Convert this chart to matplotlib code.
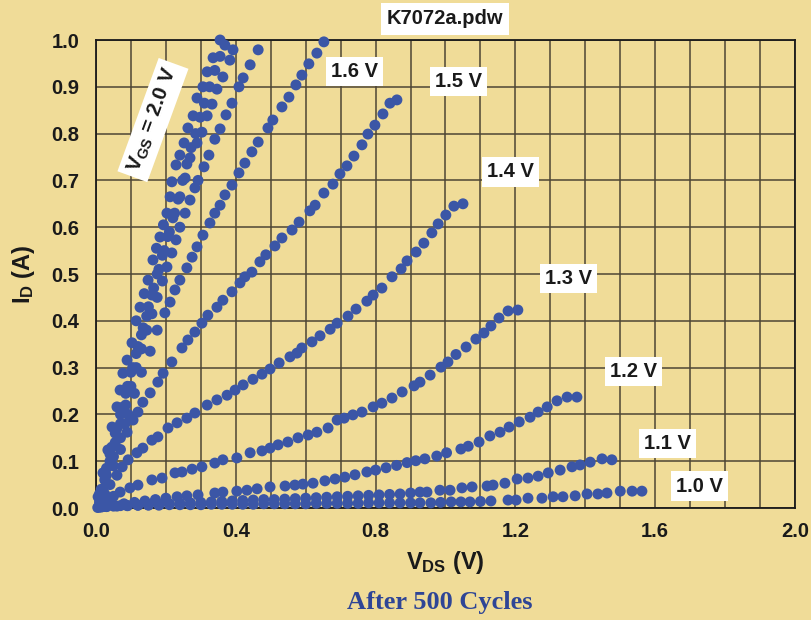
import matplotlib
matplotlib.use('Agg')
import matplotlib.pyplot as plt

# Curvas I_D - V_DS medidas (despues de 500 ciclos)
vds_10 = [0.005, 0.015, 0.03, 0.05, 0.07, 0.09, 0.12, 0.15, 0.18, 0.21, 0.24, 0.27, 0.30, 0.33,
          0.36, 0.39, 0.42, 0.45, 0.48, 0.51, 0.54, 0.57, 0.60, 0.63, 0.66, 0.69, 0.72, 0.75,
          0.78, 0.81, 0.84, 0.87, 0.90, 0.927, 0.958, 0.986, 1.016, 1.044, 1.07, 1.1, 1.13,
          1.179, 1.202, 1.236, 1.276, 1.308, 1.336, 1.371, 1.405, 1.436, 1.462, 1.5, 1.534, 1.562]
id_10 = [0.001, 0.002, 0.003, 0.004, 0.005, 0.005, 0.006, 0.006, 0.006, 0.007, 0.007, 0.007, 0.007, 0.008,
         0.008, 0.008, 0.008, 0.008, 0.009, 0.009, 0.009, 0.009, 0.009, 0.010, 0.010, 0.010, 0.010, 0.010,
         0.011, 0.011, 0.011, 0.011, 0.011, 0.011, 0.011, 0.012, 0.013, 0.013, 0.013, 0.014, 0.015,
         0.017, 0.017, 0.021, 0.021, 0.024, 0.024, 0.026, 0.030, 0.030, 0.032, 0.036, 0.036, 0.036]

vds_11 = [0.01, 0.03, 0.06, 0.09, 0.12, 0.15, 0.18, 0.21, 0.24, 0.27, 0.30, 0.33, 0.36, 0.39, 0.42,
          0.45, 0.48, 0.51, 0.54, 0.57, 0.60, 0.63, 0.66, 0.69, 0.72, 0.75, 0.78, 0.81, 0.84, 0.87,
          0.90, 0.927, 0.947, 0.984, 1.013, 1.047, 1.076, 1.119, 1.136, 1.17, 1.205, 1.236, 1.265,
          1.294, 1.328, 1.362, 1.385, 1.414, 1.448, 1.476]
id_11 = [0.002, 0.003, 0.004, 0.005, 0.006, 0.007, 0.008, 0.009, 0.010, 0.011, 0.012, 0.013, 0.014, 0.015, 0.016,
         0.017, 0.018, 0.018, 0.019, 0.020, 0.021, 0.022, 0.023, 0.024, 0.025, 0.026, 0.027, 0.028, 0.029, 0.030,
         0.032, 0.034, 0.034, 0.038, 0.038, 0.043, 0.045, 0.047, 0.049, 0.053, 0.062, 0.064, 0.068,
         0.075, 0.081, 0.088, 0.092, 0.098, 0.105, 0.103]

vds_12 = [0.02, 0.05, 0.08, 0.11, 0.14, 0.17, 0.20, 0.232, 0.26, 0.292, 0.34, 0.363, 0.403, 0.432,
          0.461, 0.498, 0.541, 0.569, 0.592, 0.621, 0.655, 0.684, 0.712, 0.741, 0.775, 0.80, 0.83,
          0.86, 0.89, 0.915, 0.941, 0.975, 1.003, 1.044, 1.065, 1.096, 1.127, 1.156, 1.182, 1.211,
          1.242, 1.265, 1.291, 1.319, 1.348, 1.376]
id_12 = [0.003, 0.006, 0.009, 0.012, 0.015, 0.018, 0.021, 0.024, 0.026, 0.028, 0.032, 0.034, 0.036, 0.038,
         0.041, 0.045, 0.047, 0.049, 0.051, 0.053, 0.058, 0.062, 0.066, 0.071, 0.077, 0.081, 0.086,
         0.091, 0.097, 0.101, 0.105, 0.111, 0.118, 0.126, 0.132, 0.141, 0.154, 0.162, 0.173, 0.184,
         0.194, 0.205, 0.216, 0.229, 0.237, 0.237]

vds_13 = [0.015, 0.03, 0.05, 0.069, 0.097, 0.12, 0.16, 0.189, 0.226, 0.246, 0.275, 0.303, 0.34, 0.363,
          0.403, 0.441, 0.475, 0.498, 0.521, 0.549, 0.578, 0.607, 0.632, 0.664, 0.69, 0.71, 0.735,
          0.761, 0.793, 0.818, 0.847, 0.876, 0.91, 0.927, 0.956, 0.987, 1.007, 1.03, 1.059, 1.087,
          1.11, 1.13, 1.153, 1.179, 1.207]
id_13 = [0.008, 0.015, 0.025, 0.034, 0.043, 0.049, 0.060, 0.064, 0.075, 0.077, 0.083, 0.088, 0.096, 0.103,
         0.107, 0.118, 0.122, 0.128, 0.135, 0.141, 0.150, 0.156, 0.162, 0.171, 0.188, 0.192, 0.199,
         0.205, 0.216, 0.224, 0.235, 0.248, 0.261, 0.269, 0.284, 0.301, 0.312, 0.328, 0.344, 0.361,
         0.374, 0.389, 0.406, 0.421, 0.423]

vds_14 = [0.01, 0.025, 0.04, 0.06, 0.075, 0.092, 0.117, 0.134, 0.16, 0.177, 0.206, 0.232, 0.26, 0.283,
          0.318, 0.346, 0.375, 0.398, 0.421, 0.449, 0.475, 0.498, 0.524, 0.555, 0.575, 0.589, 0.618,
          0.641, 0.67, 0.69, 0.721, 0.744, 0.775, 0.793, 0.818, 0.847, 0.873, 0.89, 0.916, 0.938,
          0.961, 0.979, 1.001, 1.024, 1.05]
id_14 = [0.012, 0.030, 0.050, 0.070, 0.088, 0.103, 0.118, 0.128, 0.145, 0.152, 0.171, 0.182, 0.192, 0.203,
         0.220, 0.231, 0.241, 0.252, 0.263, 0.275, 0.286, 0.297, 0.310, 0.323, 0.331, 0.342, 0.355,
         0.368, 0.382, 0.395, 0.410, 0.425, 0.442, 0.455, 0.470, 0.494, 0.511, 0.528, 0.547, 0.566,
         0.588, 0.607, 0.626, 0.645, 0.650]

vds_15 = [0.01, 0.03, 0.05, 0.07, 0.089, 0.106, 0.12, 0.134, 0.155, 0.177, 0.192, 0.217, 0.246, 0.263,
          0.283, 0.303, 0.32, 0.346, 0.363, 0.389, 0.412, 0.426, 0.446, 0.469, 0.486, 0.512, 0.532,
          0.561, 0.581, 0.612, 0.627, 0.652, 0.678, 0.698, 0.718, 0.738, 0.761, 0.778, 0.798, 0.821,
          0.841, 0.861]
id_15 = [0.020, 0.050, 0.090, 0.125, 0.162, 0.188, 0.205, 0.226, 0.246, 0.269, 0.288, 0.312, 0.342, 0.359,
         0.376, 0.395, 0.412, 0.429, 0.444, 0.462, 0.481, 0.494, 0.504, 0.526, 0.541, 0.560, 0.577,
         0.594, 0.611, 0.635, 0.647, 0.673, 0.692, 0.714, 0.731, 0.752, 0.776, 0.799, 0.818, 0.842,
         0.865, 0.872]

vds_16 = [0.01, 0.03, 0.05, 0.07, 0.083, 0.092, 0.11, 0.13, 0.155, 0.175, 0.197, 0.212, 0.226, 0.24,
          0.26, 0.275, 0.289, 0.306, 0.326, 0.34, 0.355, 0.369, 0.389, 0.409, 0.426, 0.446, 0.464,
          0.492, 0.506, 0.532, 0.552, 0.572, 0.589, 0.609, 0.632, 0.652]
id_16 = [0.030, 0.070, 0.110, 0.150, 0.180, 0.200, 0.245, 0.290, 0.335, 0.380, 0.417, 0.440, 0.466, 0.487,
         0.513, 0.536, 0.558, 0.583, 0.609, 0.630, 0.647, 0.669, 0.690, 0.716, 0.737, 0.761, 0.782,
         0.812, 0.829, 0.857, 0.878, 0.904, 0.925, 0.949, 0.972, 0.996]

vds_17 = [0.01, 0.025, 0.04, 0.055, 0.07, 0.085, 0.10, 0.115, 0.13, 0.145, 0.16, 0.175, 0.19, 0.203,
          0.217, 0.229, 0.24, 0.255, 0.269, 0.283, 0.292, 0.309, 0.323, 0.34, 0.355, 0.372, 0.389,
          0.409, 0.421, 0.441, 0.464]
id_17 = [0.025, 0.060, 0.100, 0.140, 0.180, 0.220, 0.260, 0.300, 0.340, 0.380, 0.415, 0.450, 0.485, 0.515,
         0.545, 0.573, 0.600, 0.630, 0.658, 0.684, 0.700, 0.729, 0.754, 0.788, 0.810, 0.840, 0.865,
         0.900, 0.919, 0.947, 0.979]

vds_18 = [0.015, 0.03, 0.045, 0.06, 0.075, 0.09, 0.105, 0.12, 0.135, 0.15, 0.165, 0.18, 0.195, 0.21,
          0.225, 0.24, 0.255, 0.269, 0.289, 0.303, 0.318, 0.332, 0.346, 0.363, 0.383, 0.392]
id_18 = [0.040, 0.085, 0.130, 0.170, 0.215, 0.260, 0.300, 0.345, 0.385, 0.430, 0.470, 0.510, 0.550, 0.590,
         0.630, 0.665, 0.705, 0.748, 0.780, 0.803, 0.838, 0.863, 0.895, 0.921, 0.957, 0.979]

vds_19 = [0.01, 0.025, 0.04, 0.055, 0.07, 0.085, 0.10, 0.115, 0.13, 0.145, 0.16, 0.175, 0.19, 0.205,
          0.22, 0.235, 0.248, 0.26, 0.272, 0.285, 0.298, 0.31, 0.325, 0.34, 0.355, 0.369]
id_19 = [0.025, 0.070, 0.115, 0.160, 0.200, 0.245, 0.290, 0.330, 0.370, 0.410, 0.455, 0.500, 0.540, 0.580,
         0.620, 0.660, 0.700, 0.735, 0.770, 0.800, 0.835, 0.865, 0.900, 0.935, 0.965, 0.989]

vds_20 = [0.006, 0.02, 0.034, 0.046, 0.06, 0.069, 0.077, 0.089, 0.103, 0.115, 0.126, 0.138, 0.149, 0.163,
          0.173, 0.183, 0.193, 0.203, 0.212, 0.217, 0.229, 0.24, 0.252, 0.263, 0.278, 0.289, 0.306,
          0.318, 0.335, 0.355]
id_20 = [0.024, 0.075, 0.124, 0.173, 0.216, 0.252, 0.288, 0.316, 0.353, 0.400, 0.429, 0.458, 0.487, 0.530,
         0.555, 0.579, 0.605, 0.630, 0.665, 0.697, 0.733, 0.754, 0.780, 0.812, 0.838, 0.876, 0.900,
         0.932, 0.962, 1.000]

curvas = [(vds_10, id_10), (vds_11, id_11), (vds_12, id_12), (vds_13, id_13), (vds_14, id_14),
          (vds_15, id_15), (vds_16, id_16), (vds_17, id_17), (vds_18, id_18), (vds_19, id_19),
          (vds_20, id_20)]

# Etiquetas de cada curva: texto, V_DS, I_D
etiquetas = [('1.6 V', 0.739, 0.933), ('1.5 V', 1.038, 0.912), ('1.4 V', 1.185, 0.718),
             ('1.3 V', 1.353, 0.491), ('1.2 V', 1.539, 0.291), ('1.1 V', 1.634, 0.137),
             ('1.0 V', 1.728, 0.047)]

x_ticks = [0.0, 0.4, 0.8, 1.2, 1.6, 2.0]
y_ticks = [0.0, 0.1, 0.2, 0.3, 0.4, 0.5, 0.6, 0.7, 0.8, 0.9, 1.0]
x_grid = [0.1, 0.2, 0.3, 0.5, 0.6, 0.7, 0.9, 1.0, 1.1, 1.3, 1.4, 1.5, 1.7, 1.8, 1.9]

fondo = '#F0DC98'
azul = '#3B56A6'

plt.rcParams['font.family'] = ['Liberation Sans', 'DejaVu Sans']
plt.rcParams['font.weight'] = 'bold'
plt.rcParams['mathtext.fontset'] = 'custom'
plt.rcParams['mathtext.rm'] = 'Liberation Sans:bold'
plt.rcParams['mathtext.it'] = 'Liberation Sans:bold'
plt.rcParams['mathtext.bf'] = 'Liberation Sans:bold'

fig = plt.figure(figsize=(8.12, 6.2), dpi=100, facecolor=fondo)
ax = fig.add_axes([96 / 812, 1 - 508 / 620, 699 / 812, 468 / 620])
ax.set_facecolor(fondo)

ax.set_xlim(0, 2.0)
ax.set_ylim(0, 1.0)
ax.set_xticks(x_ticks)
ax.set_xticks(x_grid, minor=True)
ax.set_yticks(y_ticks)
ax.set_xticklabels(['%.1f' % t for t in x_ticks])
ax.set_yticklabels(['%.1f' % t for t in y_ticks])
ax.tick_params(which='both', length=0, labelsize=14.5, colors='#1a1a1a')
ax.tick_params(axis='x', pad=10)
ax.tick_params(axis='y', pad=12)
ax.grid(True, which='both', color='#4d4534', lw=1.1)
ax.set_axisbelow(True)
for s in ax.spines.values():
    s.set_color('#1a1a1a')
    s.set_linewidth(1.3)

for vx, iy in curvas:
    ax.scatter(vx, iy, s=62, color=azul, edgecolors='none', zorder=3, clip_on=False)

caja = dict(boxstyle='square,pad=0.25', fc='white', ec='none')
for txt, xv, yv in etiquetas:
    ax.text(xv, yv, txt, fontsize=14.5, fontweight='bold', ha='center', va='center',
            color='#1a1a1a', bbox=caja, zorder=4)

ax.text(0.163, 0.829, r'$\mathregular{V_{GS}}$ = 2.0 V', rotation=70, fontsize=15,
        fontweight='bold', ha='center', va='center', rotation_mode='anchor',
        color='#1a1a1a', bbox=caja, zorder=4)

ax.set_xlabel(r'$\mathregular{V_{DS}}$ (V)', fontsize=17, fontweight='bold', color='#1a1a1a', labelpad=6)
ax.set_ylabel(r'$\mathregular{I_D}$ (A)', fontsize=17, fontweight='bold', color='#1a1a1a', labelpad=10)

fig.text(445 / 812, 1 - 19 / 620, 'K7072a.pdw', fontsize=14.5, fontweight='bold', ha='center',
         va='center', color='#1a1a1a', bbox=dict(boxstyle='square,pad=0.3', fc='white', ec='none'))
fig.text(440 / 812, 1 - 603 / 620, 'After 500 Cycles', fontsize=19, fontweight='bold',
         family='Liberation Serif', ha='center', va='center', color='#2E4596')

fig.savefig('out.png', dpi=100, facecolor=fondo)
